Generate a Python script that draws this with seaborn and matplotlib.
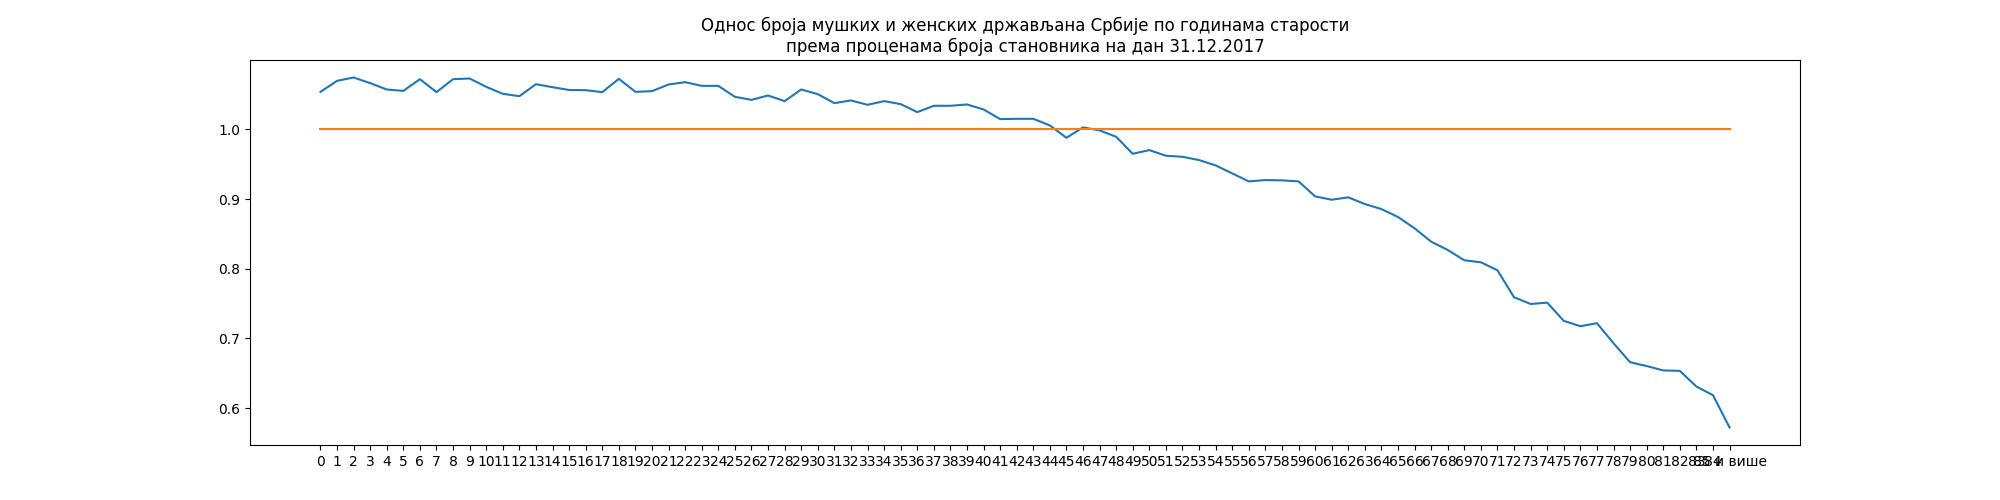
import matplotlib
matplotlib.use("Agg")
import matplotlib.pyplot as plt
import seaborn as sns
import pandas as pd

ages = [str(i) for i in range(85)] + ["85 и више"]

ratio = [
    1.0539, 1.0697, 1.0745, 1.0664, 1.0573, 1.0553, 1.0721, 1.0535, 1.0721, 1.0731,
    1.0611, 1.0511, 1.0477, 1.0649, 1.0606, 1.0566, 1.0563, 1.0535, 1.0726, 1.0539,
    1.0549, 1.0645, 1.0678, 1.0625, 1.0625, 1.0468, 1.0424, 1.0487, 1.0406, 1.0573,
    1.0506, 1.0377, 1.0416, 1.0353, 1.0406, 1.0363, 1.0248, 1.0339, 1.0339, 1.0358,
    1.0287, 1.0148, 1.0152, 1.0152, 1.0057, 0.9880, 1.0029, 0.9986, 0.9894, 0.9650,
    0.9703, 0.9622, 0.9607, 0.9560, 0.9484, 0.9369, 0.9254, 0.9273, 0.9269, 0.9254,
    0.9039, 0.8991, 0.9025, 0.8929, 0.8857, 0.8743, 0.8581, 0.8389, 0.8270, 0.8122,
    0.8093, 0.7978, 0.7591, 0.7495, 0.7514, 0.7252, 0.7176, 0.7219, 0.6932, 0.6659,
    0.6604, 0.6541, 0.6535, 0.6310, 0.6186, 0.5722,
]

reference = [1.0] * len(ages)

title = ("Однос броја мушких и женских држављана Србије по годинама старости\n"
         "према проценама броја становника на дан 31.12.2017")

df = pd.DataFrame({"age": ages, "ratio": ratio, "ref": reference})

fig, ax = plt.subplots(figsize=(20, 5), dpi=100)
sns.lineplot(data=df, x="age", y="ratio", sort=False, color="C0", ax=ax)
sns.lineplot(data=df, x="age", y="ref", sort=False, color="C1", ax=ax)
ax.set_xlabel("")
ax.set_ylabel("")
ax.set_title(title)
ax.set_yticks([0.6, 0.7, 0.8, 0.9, 1.0])
fig.savefig("out.png", dpi=100)
